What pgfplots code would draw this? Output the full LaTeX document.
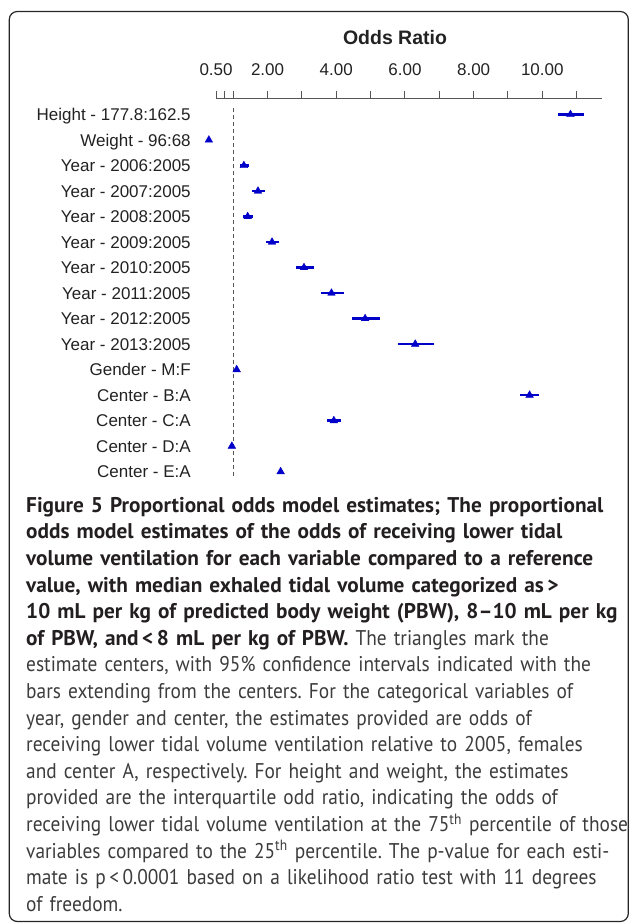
\documentclass[border=0pt]{standalone}
\usepackage{pgfplots}
\pgfplotsset{compat=1.18}
\usepackage{pgfplotstable}
\usepackage{fontspec}
\setmainfont{Liberation Sans}
\newfontfamily\capfont{PT Sans}
\definecolor{mk}{RGB}{0,0,200}
\definecolor{lab}{RGB}{34,34,34}
\definecolor{axc}{RGB}{85,85,85}
\definecolor{capb}{RGB}{35,31,32}
\definecolor{capr}{RGB}{60,60,60}

% row, estimate, lower and upper CI distance
\pgfplotstableread{
row est lo hi
1 10.82 0.35 0.38
2 0.29 0.0 0.0
3 1.31 0.12 0.14
4 1.72 0.18 0.20
5 1.42 0.15 0.15
6 2.13 0.19 0.20
7 3.06 0.24 0.28
8 3.86 0.31 0.36
9 4.84 0.37 0.42
10 6.30 0.49 0.55
11 1.10 0.05 0.05
12 9.63 0.27 0.27
13 3.93 0.20 0.21
14 0.96 0.0 0.0
15 2.38 0.0 0.0
}\ortable

\newlength\capw
\newlength\capwb
\newlength\regw
\newlength\regwb

\begin{document}%
\frenchspacing%
\settowidth\capw{\capfont\fontsize{10}{12}\selectfont\bfseries Figure 5 Proportional odds model estimates; The proportional}%
\settowidth\capwb{\capfont\fontsize{10}{12}\selectfont\bfseries 10 mL per kg of predicted body weight (PBW), 8–10 mL per kg}%
\pgfmathsetmacro\capsize{10*2*568/(\capw+\capwb)}%
\settowidth\regw{\capfont\fontsize{\capsize}{12}\selectfont estimate centers, with 95\% confidence intervals indicated with the}%
\settowidth\regwb{\capfont\fontsize{\capsize}{12}\selectfont receiving lower tidal volume ventilation at the 75\textsuperscript{th} percentile of those}%
\pgfmathsetmacro\regstretch{2*566/(\regw+\regwb)}%
\edef\regfeat{\noexpand\addfontfeatures{FakeStretch=\regstretch}}%
\begin{tikzpicture}
\path[use as bounding box] (0,0) rectangle (629pt,-923pt);
\draw[rounded corners=8pt, line width=1.2pt, color=black!85] (9.3pt,-11.5pt) rectangle (628.3pt,-921.5pt);
\begin{axis}[
  at={(198.9pt,-98.7pt)}, anchor=north west,
  scale only axis, width=402.8pt, height=385.7pt,
  xmin=0, xmax=11.73, ymin=0.38, ymax=15.5, y dir=reverse,
  axis x line*=top, axis y line*=left,
  x axis line style={draw=none}, y axis line style={draw=none},
  xtick={0.5,0.75,1,2,3,4,5,6,7,8,9,10,11},
  xticklabels={0.50,,,2.00,,4.00,,6.00,,8.00,,10.00,},
  tick align=outside, major tick length=8pt,
  xtick style={axc, line width=1pt},
  ytick={1,...,15},
  yticklabels={Height - 177.8:162.5, Weight - 96:68, Year - 2006:2005, Year - 2007:2005, Year - 2008:2005, Year - 2009:2005, Year - 2010:2005, Year - 2011:2005, Year - 2012:2005, Year - 2013:2005, Gender - M:F, Center - B:A, Center - C:A, Center - D:A, Center - E:A},
  ytick style={draw=none},
  ticklabel style={font=\fontsize{17}{20}\selectfont, text=lab},
  xticklabel style={anchor=base, inner sep=0pt, yshift=15.6pt},
  yticklabel style={anchor=base east, inner sep=0pt, yshift=-6.1pt},
  title={Odds Ratio},
  title style={font=\fontsize{19.5}{22}\selectfont\bfseries, text=lab, at={(0.5,1)}, anchor=base, inner sep=0pt, yshift=48.4pt, xshift=-5.3pt},
  clip=false,
]
\draw[axc, line width=1pt] (axis cs:0.5,0.38) -- (axis cs:11.73,0.38);
\addplot[axc, line width=1.2pt, dash pattern=on 4pt off 3pt] coordinates {(1,0.75) (1,15.25)};
\addplot[only marks, mark=triangle*, mark size=4.4pt, color=mk,
  error bars/.cd, x dir=both, x explicit, error mark=none,
  error bar style={line width=2.4pt, mk}]
  table[x=est, y=row, x error minus=lo, x error plus=hi] \ortable;
\end{axis}
\node[anchor=north west, inner sep=0pt, align=left, text width=650pt,
  font=\capfont\fontsize{\capsize}{26.6}\selectfont\frenchspacing] at (26pt,-497pt) {%
\color{capb}\bfseries Figure 5 Proportional odds model estimates; The proportional\\
odds model estimates of the odds of receiving lower tidal\\
volume ventilation for each variable compared to a reference\\
value, with median exhaled tidal volume categorized as\,>\\
10 mL per kg of predicted body weight (PBW), 8–10 mL per kg\\
of PBW, and\,<\,8 mL per kg of PBW. \mdseries\regfeat\color{capr}The triangles mark the\\
estimate centers, with 95\% confidence intervals indicated with the\\
bars extending from the centers. For the categorical variables of\\
year, gender and center, the estimates provided are odds of\\
receiving lower tidal volume ventilation relative to 2005, females\\
and center A, respectively. For height and weight, the estimates\\
provided are the interquartile odd ratio, indicating the odds of\\
receiving lower tidal volume ventilation at the 75\textsuperscript{th} percentile of those\\
variables compared to the 25\textsuperscript{th} percentile. The p-value for each esti-\\
mate is p\,<\,0.0001 based on a likelihood ratio test with 11 degrees\\
of freedom.};
\end{tikzpicture}
\end{document}
